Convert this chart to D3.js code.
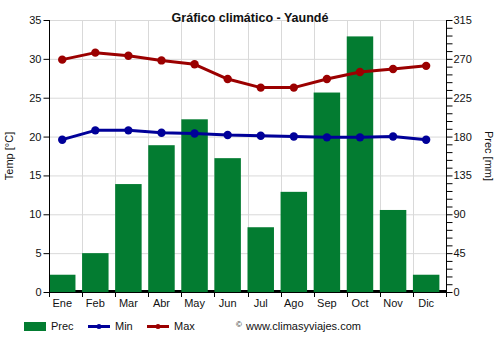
<!DOCTYPE html>
<html>
<head>
<meta charset="utf-8">
<script src="https://cdn.jsdelivr.net/npm/d3@7/dist/d3.min.js"></script>
<style>
  html, body { margin: 0; padding: 0; background: #fff; }
  svg { display: block; font-family: "Liberation Sans", Arial, sans-serif; }
</style>
</head>
<body>
<svg id="chart" width="500" height="350"></svg>
<script>
// Climate data for Yaoundé
const months = ["Ene", "Feb", "Mar", "Abr", "May", "Jun", "Jul", "Ago", "Sep", "Oct", "Nov", "Dic"];
const prec = [20, 45, 125, 170, 200, 155, 75, 116, 231, 296, 95, 20];
const tMin = [19.6, 20.8, 20.8, 20.5, 20.4, 20.2, 20.1, 20.0, 19.9, 19.9, 20.0, 19.6];
const tMax = [29.9, 30.8, 30.4, 29.8, 29.3, 27.4, 26.3, 26.3, 27.4, 28.3, 28.7, 29.1];
const tempTicks = [0, 5, 10, 15, 20, 25, 30, 35];
const precLabels = [0, 45, 90, 135, 180, 225, 270, 315];

const GREEN = "#037c31", BLUE = "#000099", RED = "#9b0000", GRID = "#d9d9d9";
const plotL = 49, plotR = 446, plotT = 20, plotB = 292;

const svg = d3.select("#chart");

const x = d3.scaleBand().domain(months).range([plotL, plotR]).paddingInner(0).paddingOuter(0);
const yT = d3.scaleLinear().domain([0, 35]).range([plotB, plotT]);
const yP = d3.scaleLinear().domain([0, 315]).range([plotB, plotT]);
const barW = x.bandwidth() * 0.8;
const cx = m => x(m) + barW / 2;

// grid
const grid = svg.append("g");
grid.selectAll("line.h").data(tempTicks.filter(d => d > 0)).join("line")
  .attr("x1", plotL).attr("x2", plotR)
  .attr("y1", d => yT(d) + 0.5).attr("y2", d => yT(d) + 0.5)
  .attr("stroke", GRID).attr("stroke-width", 1);
grid.selectAll("line.v").data(months.slice(1)).join("line")
  .attr("x1", d => Math.round(x(d)) + 0.5).attr("x2", d => Math.round(x(d)) + 0.5)
  .attr("y1", plotT).attr("y2", plotB)
  .attr("stroke", GRID).attr("stroke-width", 1);

// x axis baseline
svg.append("line").attr("x1", plotL).attr("x2", plotR)
  .attr("y1", plotB - 0.5).attr("y2", plotB - 0.5)
  .attr("stroke", "#000").attr("stroke-width", 3);

// precipitation bars
svg.append("g").selectAll("rect").data(months).join("rect")
  .attr("x", d => x(d))
  .attr("y", (d, i) => yP(prec[i]))
  .attr("width", barW)
  .attr("height", (d, i) => plotB - yP(prec[i]))
  .attr("fill", GREEN);

// x ticks and labels
const xTicks = months.map(m => x(m)).concat([plotR]);
svg.append("g").selectAll("line").data(xTicks).join("line")
  .attr("x1", d => Math.round(d) + 0.5).attr("x2", d => Math.round(d) + 0.5)
  .attr("y1", plotB).attr("y2", plotB + 5)
  .attr("stroke", "#000");
svg.append("g").selectAll("text").data(months).join("text")
  .attr("x", d => cx(d)).attr("y", 307)
  .attr("text-anchor", "middle").attr("font-size", 11).attr("fill", "#111")
  .text(d => d);

// left axis
const axL = d3.axisLeft(yT).tickValues(tempTicks).tickSize(6).tickPadding(2).tickFormat(d3.format("d"));
const gL = svg.append("g").attr("transform", `translate(${plotL + 0.5},0)`).call(axL);
gL.select(".domain").attr("d", `M0,${plotT}V${plotB}`).attr("stroke", "#000");
gL.selectAll(".tick line").attr("stroke", "#000");
gL.selectAll("text").attr("font-size", 11).attr("fill", "#111").attr("font-family", "Liberation Sans, Arial, sans-serif");

// right axis: minor ticks every 9 mm, labels every 45 mm
const minor = d3.range(0, 316, 9);
const axR = d3.axisRight(yP).tickValues(minor).tickSize(6).tickPadding(1)
  .tickFormat(d => precLabels.includes(d) ? d : "");
const gR = svg.append("g").attr("transform", `translate(${plotR + 0.5},0)`).call(axR);
gR.select(".domain").attr("d", `M0,${plotT}V${plotB}`).attr("stroke", "#000");
gR.selectAll(".tick line").attr("stroke", "#000");
gR.selectAll("text").attr("font-size", 11).attr("fill", "#111").attr("font-family", "Liberation Sans, Arial, sans-serif");

// temperature lines
function series(vals, color) {
  const line = d3.line().x((d, i) => cx(months[i])).y(d => yT(d));
  svg.append("path").datum(vals).attr("d", line)
    .attr("fill", "none").attr("stroke", color).attr("stroke-width", 3)
    .attr("stroke-linejoin", "round");
  svg.append("g").selectAll("circle").data(vals).join("circle")
    .attr("cx", (d, i) => cx(months[i])).attr("cy", d => yT(d))
    .attr("r", 4.2).attr("fill", color);
}
series(tMin, BLUE);
series(tMax, RED);

// title
svg.append("text").attr("x", 250).attr("y", 22).attr("text-anchor", "middle")
  .attr("font-size", 12.5).attr("font-weight", "bold").attr("fill", "#111")
  .text("Gráfico climático - Yaundé");

// axis titles
svg.append("text").attr("transform", "translate(13,156) rotate(-90)")
  .attr("text-anchor", "middle").attr("font-size", 11).attr("fill", "#111")
  .text("Temp [°C]");
svg.append("text").attr("transform", "translate(485,156) rotate(90)")
  .attr("text-anchor", "middle").attr("font-size", 11).attr("fill", "#111")
  .text("Prec [mm]");

// legend
const lg = svg.append("g");
lg.append("rect").attr("x", 24).attr("y", 322).attr("width", 22).attr("height", 9).attr("fill", GREEN);
lg.append("text").attr("x", 51).attr("y", 330).attr("font-size", 11).attr("fill", "#111").text("Prec");
[[88, BLUE, "Min"], [147, RED, "Max"]].forEach(([lx, c, t]) => {
  lg.append("line").attr("x1", lx).attr("x2", lx + 22).attr("y1", 326.5).attr("y2", 326.5)
    .attr("stroke", c).attr("stroke-width", 3);
  lg.append("circle").attr("cx", lx + 11).attr("cy", 326.5).attr("r", 2.5).attr("fill", c);
  lg.append("text").attr("x", lx + 27).attr("y", 330).attr("font-size", 11).attr("fill", "#111").text(t);
});
lg.append("text").attr("x", 236).attr("y", 327).attr("font-size", 8).attr("fill", "#111").text("©");
lg.append("text").attr("x", 246).attr("y", 330).attr("font-size", 11).attr("fill", "#111").text("www.climasyviajes.com");
</script>
</body>
</html>
